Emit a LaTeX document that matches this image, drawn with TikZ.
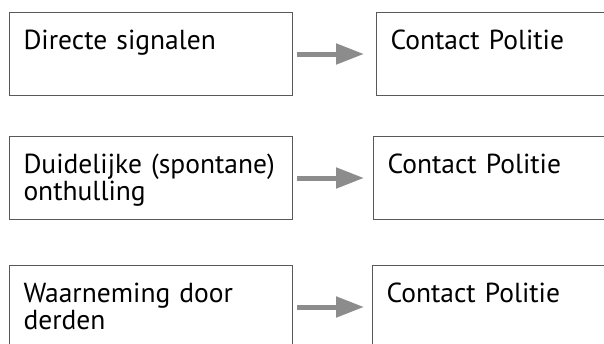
\documentclass[tikz,border=0pt]{standalone}
\usepackage{fontspec}
\setmainfont{PT Sans}
\usetikzlibrary{arrows.meta}
\definecolor{framegray}{HTML}{595959}
\definecolor{arrowgray}{HTML}{8C8C8C}
\hyphenpenalty=10000
\begin{document}
\begin{tikzpicture}
        [x=1pt,y=-1pt,%%%%%%%%%%%%%%%%%%%%%%%%%%%%%%
        box/.style={rectangle,draw=framegray,line width=1pt,anchor=north west,
          minimum width=283pt,minimum height=83pt,align=left,text width=255pt,
          inner xsep=14pt,inner ysep=17pt,text height=20pt,text depth=29pt,
          font=\fontsize{27.5}{27}\selectfont},
        link/.style={arrowgray,line width=5pt,-{Triangle[length=28pt,width=20pt]}},
        ]%%%%%%%%%%%%%%%%%%%%%%%%%%%%%%
        
        \clip (0,0) rectangle (604,343);
        
        \node[box] (signalen)   at (9,12)   {Directe signalen};
        \node[box] (onthulling) at (9,136)  {Duidelijke (spontane)\\onthulling};
        \node[box] (derden)     at (9,265)  {Waarneming door\\derden};
        
        \node[box] (politieA) at (376,12)  {Contact Politie};
        \node[box] (politieB) at (373,136) {Contact Politie};
        \node[box] (politieC) at (372,265) {Contact Politie};
        
        \draw[link] ([xshift=4pt]signalen.east)   -- ([xshift=-12pt]politieA.west);
        \draw[link] ([xshift=4pt]onthulling.east) -- ([xshift=-9pt]politieB.west);
        \draw[link] ([xshift=4pt]derden.east)     -- ([xshift=-8pt]politieC.west);
        
      \end{tikzpicture}
\end{document}
